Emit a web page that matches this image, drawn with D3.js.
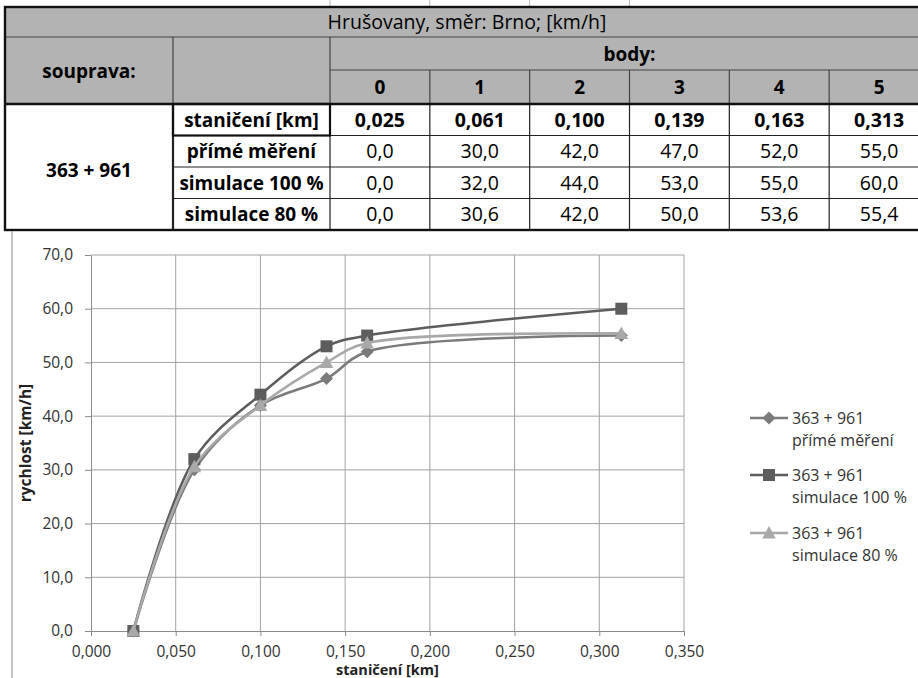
<!DOCTYPE html>
<html>
<head>
<meta charset="utf-8">
<script src="https://cdn.jsdelivr.net/npm/d3@7"></script>
<style>
  body { margin: 0; background: #fff; }
  svg { display: block; font-family: "Open Sans", "Noto Sans", sans-serif; }
</style>
</head>
<body>
<div id="plot"></div>
<script>
const title = "Hrušovany, směr: Brno; [km/h]";
const train = "363 + 961";
const points = [0, 1, 2, 3, 4, 5];
const stations = [0.025, 0.061, 0.100, 0.139, 0.163, 0.313];
const rowLabels = ["staničení [km]", "přímé měření", "simulace 100 %", "simulace 80 %"];
const seriesNames = ["přímé měření", "simulace 100 %", "simulace 80 %"];
const prime = [0.0, 30.0, 42.0, 47.0, 52.0, 55.0];
const sim100 = [0.0, 32.0, 44.0, 53.0, 55.0, 60.0];
const sim80 = [0.0, 30.6, 42.0, 50.0, 53.6, 55.4];
const xTicks = [0, 0.05, 0.1, 0.15, 0.2, 0.25, 0.3, 0.35];
const yTicks = [0, 10, 20, 30, 40, 50, 60, 70];

const w = 918;
const h = 678;
const font = "\"Open Sans\", \"Noto Sans\", sans-serif";

const cz = d3.formatLocale({decimal: ",", thousands: " ", grouping: [3], currency: ["", ""]});
const f3 = cz.format(".3f");
const f1 = cz.format(".1f");

const svg = d3.select("div#plot")
    .append("svg")
    .attr("width", w)
    .attr("height", h);

// ---------- table ----------
const tLeft = 5, c1 = 173, c2 = 330, tRight = 929;
const rTop = 7, r1 = 37, r2 = 70, r3 = 104, tBottom = 230;
const gray = "#b3b3b3";

const colX = d3.scaleBand().domain(points).range([c2, tRight]);
const rowY = d3.scaleBand().domain(rowLabels).range([r3, tBottom]);

const table = svg.append("g").attr("class", "table");

// faint column lines above table (cut-off row)
table.selectAll("line.stub")
    .data(points.slice(0, 4))
    .enter().append("line")
    .attr("x1", d => colX(d)).attr("x2", d => colX(d))
    .attr("y1", 0).attr("y2", rTop)
    .attr("stroke", "#bbb");

// header fills
table.append("rect")
    .attr("x", tLeft).attr("y", rTop)
    .attr("width", tRight - tLeft).attr("height", r3 - rTop)
    .attr("fill", gray);

const thin = "#222";
function hline(x1, x2, yy, sw, col) {
  table.append("line").attr("x1", x1).attr("x2", x2).attr("y1", yy).attr("y2", yy)
      .attr("stroke", col || thin).attr("stroke-width", sw || 1);
}
function vline(xx, y1, y2, sw, col) {
  table.append("line").attr("x1", xx).attr("x2", xx).attr("y1", y1).attr("y2", y2)
      .attr("stroke", col || thin).attr("stroke-width", sw || 1);
}

// header grid
hline(tLeft, tRight, r1, 1.2, "#444");
hline(c2, tRight, r2, 1.2, "#444");
vline(c1, r1, r3, 1.2, "#444");
vline(c2, r1, r3, 1.2, "#444");
points.slice(1).forEach(p => vline(colX(p), r2, r3, 1.2, "#444"));

// body grid
rowLabels.slice(1).forEach(r => hline(c1, tRight, rowY(r), 1.2));
points.slice(1).forEach(p => vline(colX(p), r3, tBottom, 1.2));
vline(c2, r3, tBottom, 1.2);
vline(c1, r3, tBottom, 2.2);
// box around station label
table.append("rect")
    .attr("x", c1).attr("y", r3)
    .attr("width", c2 - c1).attr("height", rowY.bandwidth())
    .attr("fill", "none").attr("stroke", "#111").attr("stroke-width", 2.2);
hline(tLeft, tRight, r3, 2.4, "#111");

// outer border
table.append("rect")
    .attr("x", tLeft).attr("y", rTop)
    .attr("width", tRight - tLeft).attr("height", tBottom - rTop)
    .attr("fill", "none").attr("stroke", "#111").attr("stroke-width", 2.4);

// texts
const tSize = 19;
table.append("text")
    .attr("x", (tLeft + tRight) / 2).attr("y", (rTop + r1) / 2 + 7)
    .attr("text-anchor", "middle").attr("font-size", 19.5)
    .text(title);

table.append("text")
    .attr("x", (c2 + tRight) / 2).attr("y", (r1 + r2) / 2 + 7)
    .attr("text-anchor", "middle").attr("font-size", tSize).attr("font-weight", "bold")
    .text("body:");

table.append("text")
    .attr("x", (tLeft + c1) / 2).attr("y", (r1 + r3) / 2 + 7)
    .attr("text-anchor", "middle").attr("font-size", tSize).attr("font-weight", "bold")
    .text("souprava:");

table.selectAll("text.pt")
    .data(points)
    .enter().append("text")
    .attr("class", "pt")
    .attr("x", d => colX(d) + colX.bandwidth() / 2)
    .attr("y", (r2 + r3) / 2 + 7)
    .attr("text-anchor", "middle").attr("font-size", tSize).attr("font-weight", "bold")
    .text(d => d);

table.append("text")
    .attr("x", (tLeft + c1) / 2).attr("y", (r3 + tBottom) / 2 + 10)
    .attr("text-anchor", "middle").attr("font-size", tSize).attr("font-weight", "bold")
    .text(train);

table.selectAll("text.rl")
    .data(rowLabels)
    .enter().append("text")
    .attr("class", "rl")
    .attr("x", (c1 + c2) / 2)
    .attr("y", d => rowY(d) + rowY.bandwidth() / 2 + 7)
    .attr("text-anchor", "middle").attr("font-size", tSize).attr("font-weight", "bold")
    .text(d => d);

const bodyRows = [
  {label: rowLabels[0], values: stations, fmt: f3, bold: true},
  {label: rowLabels[1], values: prime, fmt: f1, bold: false},
  {label: rowLabels[2], values: sim100, fmt: f1, bold: false},
  {label: rowLabels[3], values: sim80, fmt: f1, bold: false}
];

bodyRows.forEach(r => {
  table.selectAll(null)
      .data(r.values)
      .enter().append("text")
      .attr("x", (d, i) => colX(points[i]) + colX.bandwidth() / 2)
      .attr("y", rowY(r.label) + rowY.bandwidth() / 2 + 7)
      .attr("text-anchor", "middle").attr("font-size", 19.5)
      .attr("font-weight", r.bold ? "bold" : "normal")
      .text(d => r.fmt(d));
});

// ---------- chart ----------
svg.append("line")
    .attr("x1", 12).attr("x2", 12).attr("y1", tBottom + 1).attr("y2", h)
    .attr("stroke", "#888");

const xScale = d3.scaleLinear().domain([0, 0.35]).range([91, 684]);
const yScale = d3.scaleLinear().domain([0, 70]).range([631, 255]);

const grid = svg.append("g").attr("class", "grid");
grid.selectAll("line.gx")
    .data(xTicks.slice(1))
    .enter().append("line")
    .attr("x1", d => xScale(d)).attr("x2", d => xScale(d))
    .attr("y1", yScale(70)).attr("y2", yScale(0))
    .attr("stroke", "#a3a3a3");
grid.selectAll("line.gy")
    .data(yTicks.slice(1))
    .enter().append("line")
    .attr("x1", xScale(0)).attr("x2", xScale(0.35))
    .attr("y1", d => yScale(d)).attr("y2", d => yScale(d))
    .attr("stroke", "#a3a3a3");

const xAxis = d3.axisBottom(xScale)
    .tickValues(xTicks)
    .tickSize(5)
    .tickSizeOuter(0)
    .tickPadding(10)
    .tickFormat(f3);

const yAxis = d3.axisLeft(yScale)
    .tickValues(yTicks)
    .tickSize(6)
    .tickSizeOuter(0)
    .tickPadding(12)
    .tickFormat(f1);

svg.append("g")
    .attr("class", "xAxis")
    .attr("transform", `translate(0, ${yScale(0)})`)
    .call(xAxis);

svg.append("g")
    .attr("class", "yAxis")
    .attr("transform", `translate(${xScale(0)}, 0)`)
    .call(yAxis);

svg.selectAll(".xAxis path, .yAxis path, .xAxis line, .yAxis line")
    .attr("stroke", "#8c8c8c");
svg.selectAll(".xAxis, .yAxis")
    .attr("font-family", font)
    .attr("font-size", 15.5);
svg.selectAll(".xAxis text, .yAxis text")
    .attr("fill", "#333");

svg.append("text")
    .attr("transform", `translate(31, ${(yScale(0) + yScale(70)) / 2}) rotate(-90)`)
    .attr("text-anchor", "middle")
    .attr("font-size", 15.5).attr("font-weight", "bold").attr("fill", "#222")
    .text("rychlost [km/h]");

svg.append("text")
    .attr("x", (xScale(0) + xScale(0.35)) / 2).attr("y", 675)
    .attr("text-anchor", "middle")
    .attr("font-size", 14.5).attr("font-weight", "bold").attr("fill", "#222")
    .text("staničení [km]");

// series
const markerPath = {
  diamond: "M0,-6.5L6.5,0L0,6.5L-6.5,0Z",
  square: "M-6,-6H6V6H-6Z",
  triangle: "M0,-7L6.8,5.5H-6.8Z"
};

const series = [
  {name: seriesNames[0], values: prime, color: "#7b7b7b", marker: "diamond"},
  {name: seriesNames[1], values: sim100, color: "#5d5d5d", marker: "square"},
  {name: seriesNames[2], values: sim80, color: "#a9a9a9", marker: "triangle"}
];

const line = d3.line()
    .x((d, i) => xScale(stations[i]))
    .y(d => yScale(d))
    .curve(d3.curveCatmullRom.alpha(0.5));

const sg = svg.append("g").attr("class", "series");

series.forEach(s => {
  sg.append("path")
      .datum(s.values)
      .attr("d", line)
      .attr("fill", "none")
      .attr("stroke", s.color)
      .attr("stroke-width", 2.6);
  sg.selectAll(null)
      .data(s.values)
      .enter().append("path")
      .attr("d", markerPath[s.marker])
      .attr("transform", (d, i) => `translate(${xScale(stations[i])}, ${yScale(d)})`)
      .attr("fill", s.color);
});

// legend
const legendY = [418, 475, 533];
const legend = svg.append("g").attr("class", "legend");
series.forEach((s, i) => {
  const g = legend.append("g").attr("transform", `translate(0, ${legendY[i]})`);
  g.append("line")
      .attr("x1", 750).attr("x2", 788).attr("y1", 0).attr("y2", 0)
      .attr("stroke", s.color).attr("stroke-width", 2.6);
  g.append("path")
      .attr("d", markerPath[s.marker])
      .attr("transform", "translate(769, 0)")
      .attr("fill", s.color);
  g.append("text")
      .attr("x", 792).attr("y", 6)
      .attr("font-size", 16).attr("fill", "#333")
      .text(train);
  g.append("text")
      .attr("x", 792).attr("y", 28)
      .attr("font-size", 16).attr("fill", "#333")
      .text(s.name);
});
</script>
</body>
</html>
